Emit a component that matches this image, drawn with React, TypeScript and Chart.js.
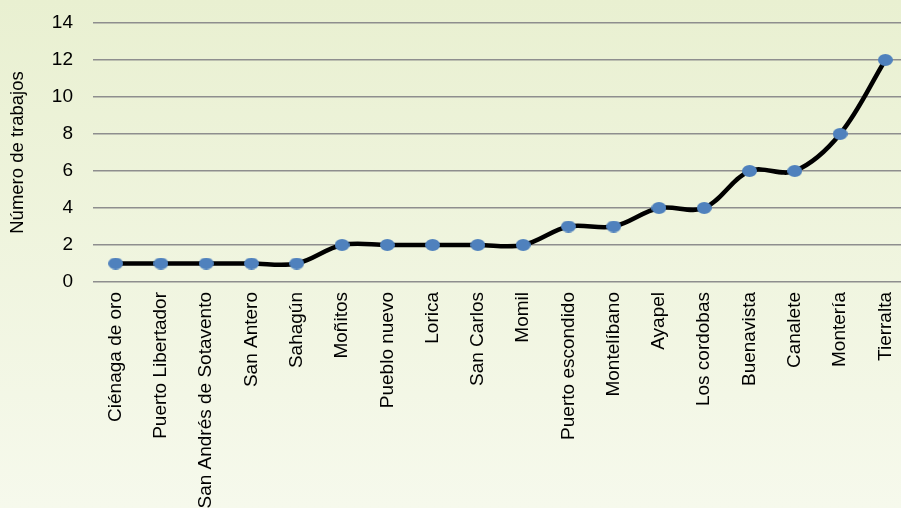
import React, { useEffect, useRef } from "react";
import { Chart, registerables } from "chart.js";

Chart.register(...registerables);

const categories = [
  "Ciénaga de oro",
  "Puerto Libertador",
  "San Andrés de Sotavento",
  "San Antero",
  "Sahagún",
  "Moñitos",
  "Pueblo nuevo",
  "Lorica",
  "San Carlos",
  "Momil",
  "Puerto escondido",
  "Montelíbano",
  "Ayapel",
  "Los cordobas",
  "Buenavista",
  "Canalete",
  "Montería",
  "Tierralta",
];
const trabajos = [1, 1, 1, 1, 1, 2, 2, 2, 2, 2, 3, 3, 4, 4, 6, 6, 8, 12];
const yTitle = "Número de trabajos";

function makeDot(): HTMLCanvasElement {
  const c = document.createElement("canvas");
  c.width = 15;
  c.height = 12;
  const ctx = c.getContext("2d")!;
  ctx.fillStyle = "#4F81BD";
  ctx.beginPath();
  ctx.ellipse(7.5, 6, 7.5, 6, 0, 0, Math.PI * 2);
  ctx.fill();
  return c;
}

export default function App() {
  const ref = useRef<HTMLCanvasElement>(null);
  useEffect(() => {
    if (!ref.current) return;
    const font = "'Liberation Sans', Arial, sans-serif";
    const chart = new Chart(ref.current, {
      type: "line",
      data: {
        labels: categories,
        datasets: [
          {
            data: trabajos,
            borderColor: "#000000",
            borderWidth: 4.5,
            tension: 0.35,
            pointStyle: makeDot() as any,
            pointRadius: 7,
            pointBackgroundColor: "#4F81BD",
            pointBorderWidth: 0,
          },
        ],
      },
      options: {
        animation: false,
        responsive: false,
        devicePixelRatio: 1,
        layout: { padding: { top: 23, right: 0, left: 0, bottom: 0 } },
        plugins: { legend: { display: false }, tooltip: { enabled: false } },
        scales: {
          x: {
            offset: true,
            grid: { display: false, drawTicks: false },
            border: { display: false },
            ticks: {
              autoSkip: false,
              minRotation: 90,
              maxRotation: 90,
              padding: 10,
              color: "#000",
              font: { family: font, size: 19 },
            },
            afterFit: (s: any) => {
              s.height = 226;
              s.paddingLeft = 0;
              s.paddingRight = 0;
              s.paddingTop = 0;
              s.paddingBottom = 0;
            },
          },
          y: {
            min: 0,
            max: 14,
            ticks: {
              stepSize: 2,
              padding: 20,
              color: "#000",
              font: { family: font, size: 19 },
            },
            grid: { color: "#8E8E8E", lineWidth: 1.5, drawTicks: false },
            border: { display: false },
            title: {
              display: true,
              text: yTitle,
              color: "#000",
              padding: { top: 7, bottom: 0 },
              font: { family: font, size: 18.5 },
            },
            afterFit: (s: any) => {
              s.width = 93;
              s.paddingTop = 0;
              s.paddingBottom = 0;
              s.paddingLeft = 0;
              s.paddingRight = 0;
            },
          },
        },
      },
    });
    return () => chart.destroy();
  }, []);
  return (
    <div
      style={{
        position: "fixed",
        left: 0,
        top: 0,
        width: 901,
        height: 508,
        overflow: "hidden",
        background: "linear-gradient(#E9F0D1, #F6F9EC)",
      }}
    >
      <canvas
        ref={ref}
        width={915}
        height={508}
        style={{ display: "block", width: 915, height: 508 }}
      />
    </div>
  );
}
